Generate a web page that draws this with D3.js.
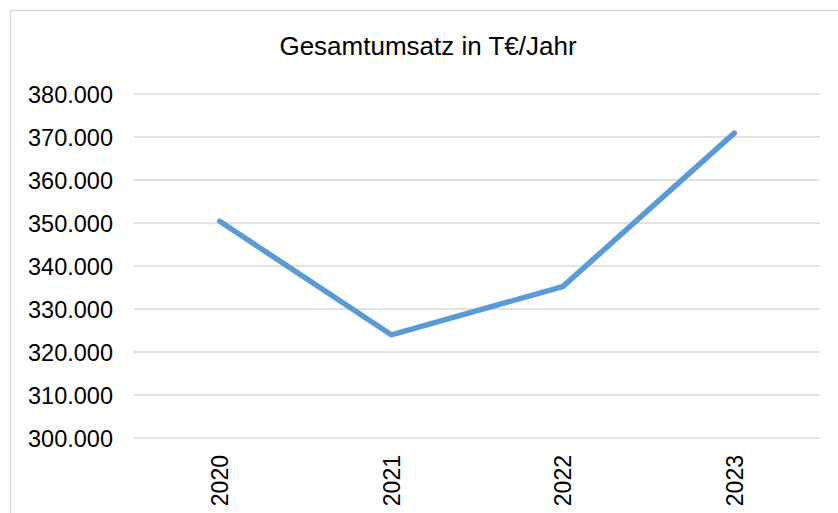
<!DOCTYPE html>
<html>
<head>
<meta charset="utf-8">
<script src="https://cdn.jsdelivr.net/npm/d3@7"></script>
<style>
  body { margin: 0; background: #fff; }
  svg { display: block; font-family: "Liberation Sans", Arial, sans-serif; }
</style>
</head>
<body>
<svg id="chart"></svg>
<script>
// data
const years = ["2020", "2021", "2022", "2023"];
const umsatz = [350400, 324000, 335200, 370900];
const yTicks = [300000, 310000, 320000, 330000, 340000, 350000, 360000, 370000, 380000];
const title = "Gesamtumsatz in T€/Jahr";

const width = 838, height = 513;
const plot = { left: 134, right: 820, top: 94, bottom: 438 };

const svg = d3.select("#chart")
  .attr("width", width)
  .attr("height", height);

// chart frame, runs off the right and bottom edge
svg.append("rect")
  .attr("x", 10.5)
  .attr("y", 10.5)
  .attr("width", width + 20)
  .attr("height", height + 20)
  .attr("fill", "#fff")
  .attr("stroke", "#d9d9d9")
  .attr("stroke-width", 1.5);

const de = d3.formatLocale({ decimal: ",", thousands: ".", grouping: [3], currency: ["", " €"] });
const fmt = de.format(",.0f");

const x = d3.scaleBand()
  .domain(years)
  .range([plot.left, plot.right]);

const y = d3.scaleLinear()
  .domain([300000, 380000])
  .range([plot.bottom, plot.top]);

// gridlines
svg.append("g")
  .attr("class", "grid")
  .selectAll("line")
  .data(yTicks)
  .join("line")
  .attr("x1", plot.left)
  .attr("x2", plot.right)
  .attr("y1", d => y(d))
  .attr("y2", d => y(d))
  .attr("stroke", "#d9d9d9")
  .attr("stroke-width", 1.6);

// y axis labels
const yAxis = svg.append("g")
  .attr("transform", `translate(${plot.left - 21},0)`)
  .call(d3.axisLeft(y).tickValues(yTicks).tickFormat(fmt).tickSize(0).tickPadding(0));
yAxis.select(".domain").remove();
yAxis.selectAll("text")
  .attr("font-family", "Liberation Sans, Arial, sans-serif")
  .attr("font-size", 23.5)
  .attr("fill", "#000")
  .attr("dy", "0.35em");

// x axis labels, rotated
const xAxis = svg.append("g")
  .attr("transform", `translate(0,${plot.bottom})`)
  .call(d3.axisBottom(x).tickSize(0).tickPadding(0));
xAxis.select(".domain").remove();
xAxis.selectAll("text")
  .attr("font-family", "Liberation Sans, Arial, sans-serif")
  .attr("font-size", 23)
  .attr("fill", "#000")
  .attr("transform", "rotate(-90)")
  .attr("text-anchor", "end")
  .attr("x", -17)
  .attr("y", 0)
  .attr("dy", "0.36em");

// line
const line = d3.line()
  .x((d, i) => x(years[i]) + x.bandwidth() / 2)
  .y(d => y(d));

svg.append("path")
  .datum(umsatz)
  .attr("d", line)
  .attr("fill", "none")
  .attr("stroke", "#5b9bd5")
  .attr("stroke-width", 5.5)
  .attr("stroke-linecap", "round")
  .attr("stroke-linejoin", "round");

// title
svg.append("text")
  .attr("x", 428)
  .attr("y", 55)
  .attr("text-anchor", "middle")
  .attr("font-size", 26)
  .attr("fill", "#000")
  .text(title);
</script>
</body>
</html>
